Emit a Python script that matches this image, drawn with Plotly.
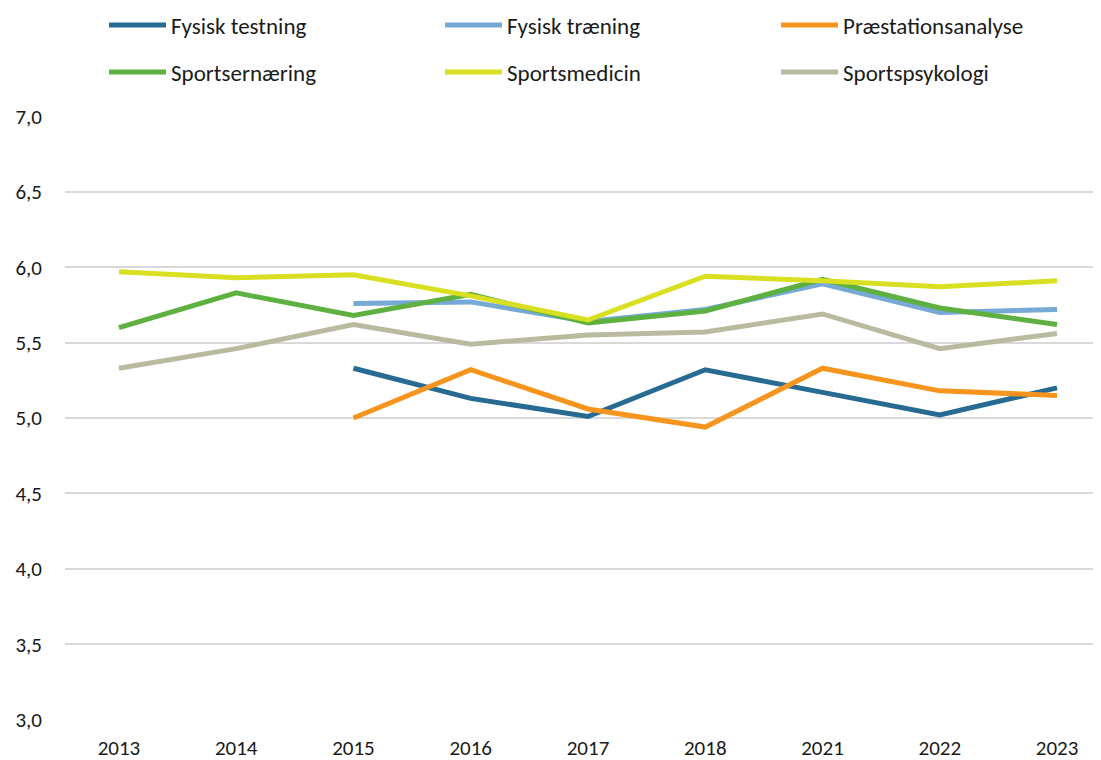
import plotly.graph_objects as go

# Data
AAR = ["2013", "2014", "2015", "2016", "2017", "2018", "2021", "2022", "2023"]

FYSISK_TESTNING = [None, None, 5.33, 5.13, 5.01, 5.32, 5.17, 5.02, 5.20]
FYSISK_TRAENING = [None, None, 5.76, 5.77, 5.64, 5.72, 5.89, 5.70, 5.72]
PRAESTATIONSANALYSE = [None, None, 5.00, 5.32, 5.06, 4.94, 5.33, 5.18, 5.15]
SPORTSERNAERING = [5.60, 5.83, 5.68, 5.82, 5.63, 5.71, 5.92, 5.73, 5.62]
SPORTSMEDICIN = [5.97, 5.93, 5.95, 5.81, 5.65, 5.94, 5.91, 5.87, 5.91]
SPORTSPSYKOLOGI = [5.33, 5.46, 5.62, 5.49, 5.55, 5.57, 5.69, 5.46, 5.56]

Y_TICKS = [3.0, 3.5, 4.0, 4.5, 5.0, 5.5, 6.0, 6.5, 7.0]

SERIER = [
    ("Fysisk testning", FYSISK_TESTNING, "#276A92", "legend"),
    ("Fysisk træning", FYSISK_TRAENING, "#77A9D7", "legend"),
    ("Præstationsanalyse", PRAESTATIONSANALYSE, "#F7941D", "legend"),
    ("Sportsernæring", SPORTSERNAERING, "#5EB140", "legend2"),
    ("Sportsmedicin", SPORTSMEDICIN, "#D8E021", "legend2"),
    ("Sportspsykologi", SPORTSPSYKOLOGI, "#BABAA0", "legend2"),
]

FONT = "Carlito, Lato, Liberation Sans, sans-serif"
TEKST = "#1a1a1a"

# siden har 8 px body-margen, så figuren gøres tilsvarende mindre
BREDDE = 1093
HOEJDE = 752

fig = go.Figure()

for navn, vaerdier, farve, leg in SERIER:
    fig.add_trace(go.Scatter(
        x=AAR,
        y=vaerdier,
        mode="lines",
        name=navn,
        legend=leg,
        connectgaps=False,
        line=dict(color=farve, width=5),
        hovertemplate="%{x}: %{y:.2f}<extra>" + navn + "</extra>",
    ))

legend_stil = dict(
    orientation="h",
    xref="container",
    yref="container",
    xanchor="left",
    yanchor="middle",
    x=96 / BREDDE,
    entrywidth=264,
    entrywidthmode="pixels",
    itemwidth=57,
    font=dict(family=FONT, size=23, color=TEKST),
    bgcolor="rgba(0,0,0,0)",
)

fig.update_layout(
    width=BREDDE,
    height=HOEJDE,
    separators=",.",
    font=dict(family=FONT, size=21, color=TEKST),
    plot_bgcolor="white",
    paper_bgcolor="white",
    showlegend=True,
    legend=dict(legend_stil, y=1 - 17 / HOEJDE),
    legend2=dict(legend_stil, y=1 - 64 / HOEJDE),
    xaxis=dict(
        type="category",
        categoryorder="array",
        categoryarray=AAR,
        range=[-0.46, 8.375],
        showgrid=False,
        showline=False,
        zeroline=False,
        ticks="",
        ticklabelstandoff=13,
        tickfont=dict(family=FONT, size=21, color=TEKST),
    ),
    yaxis=dict(
        range=[2.997, 7.003],
        tickvals=Y_TICKS,
        tickformat=".1f",
        showgrid=True,
        gridcolor="#D9D9D9",
        gridwidth=2,
        zeroline=False,
        showline=False,
        ticks="",
        ticklabelstandoff=22,
        tickfont=dict(family=FONT, size=21, color=TEKST),
    ),
    margin=dict(l=57, r=0, t=108, b=40),
    hovermode="x unified",
)

fig.write_html("out.html")
